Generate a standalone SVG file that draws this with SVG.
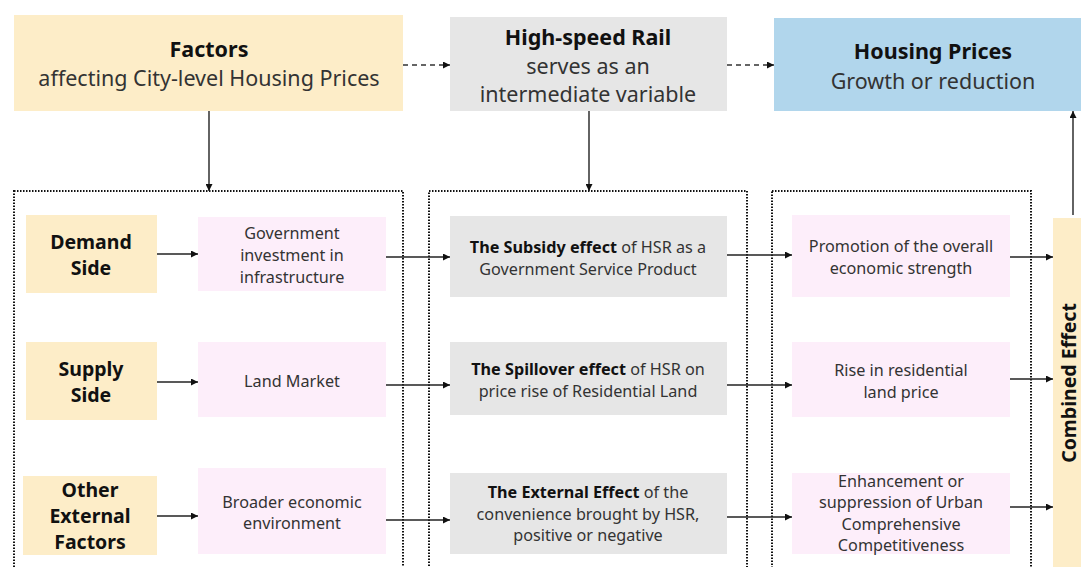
<svg xmlns="http://www.w3.org/2000/svg" width="1081" height="567" viewBox="0 0 1081 567">
<style>
text{font-family:"Noto Sans","Open Sans","Liberation Sans",sans-serif;fill:#333;text-anchor:middle}
.b{font-weight:bold;fill:#111}
.t0{font-size:21.5px}
.t1{font-size:21.5px}
.t2{font-size:19.5px}
.t3{font-size:16.2px}
.yel{fill:#fdedc8}
.gry{fill:#e6e6e6}
.pnk{fill:#fdeefa}
.blu{fill:#b1d6ec}
.dot{fill:none;stroke:#111;stroke-width:2;stroke-dasharray:1.5 1.5}
.ln{stroke:#222;stroke-width:1.4;fill:none}
.ds{stroke:#333;stroke-width:1.4;fill:none;stroke-dasharray:5 4}
</style>
<defs>
<marker id="ah" viewBox="0 0 10 10" refX="10" refY="5" markerWidth="7" markerHeight="7" markerUnits="userSpaceOnUse" orient="auto">
<path d="M0,0 L10,5 L0,10 z" fill="#111"/>
</marker>
</defs>
<rect width="1081" height="567" fill="#fff"/>

<g id="frames">
<rect class="dot" x="14" y="191" width="389" height="390"/>
<rect class="dot" x="429" y="191" width="318" height="390"/>
<rect class="dot" x="772" y="191" width="259" height="390"/>
</g>

<g id="factors">
<rect class="yel" x="14" y="15" width="389" height="96"/>
<text class="t0 b" x="209" y="57">Factors</text>
<text class="t1" x="209" y="86">affecting City-level Housing Prices</text>
</g>
<g id="hsr">
<rect class="gry" x="450" y="17" width="277" height="94"/>
<text class="t0 b" x="588" y="45">High-speed Rail</text>
<text class="t1" x="588" y="74">serves as an</text>
<text class="t1" x="588" y="102">intermediate variable</text>
</g>
<g id="housing">
<rect class="blu" x="774" y="18" width="307" height="93"/>
<text class="t0 b" x="933" y="59">Housing Prices</text>
<text class="t1" x="933" y="89">Growth or reduction</text>
</g>

<g id="demand">
<rect class="yel" x="26" y="215" width="131" height="78"/>
<text class="t2 b" x="91" y="249">Demand</text>
<text class="t2 b" x="91" y="275">Side</text>
</g>
<g id="supply">
<rect class="yel" x="26" y="342" width="131" height="78"/>
<text class="t2 b" x="91" y="376">Supply</text>
<text class="t2 b" x="91" y="402">Side</text>
</g>
<g id="other">
<rect class="yel" x="23" y="476" width="134" height="79"/>
<text class="t2 b" x="90" y="497">Other</text>
<text class="t2 b" x="90" y="523">External</text>
<text class="t2 b" x="90" y="549">Factors</text>
</g>

<g id="gov">
<rect class="pnk" x="198" y="217" width="188" height="74"/>
<text class="t3" x="292" y="239">Government</text>
<text class="t3" x="292" y="261">investment in</text>
<text class="t3" x="292" y="283">infrastructure</text>
</g>
<g id="land">
<rect class="pnk" x="198" y="342" width="188" height="75"/>
<text class="t3" x="292" y="387">Land  Market</text>
</g>
<g id="broader">
<rect class="pnk" x="198" y="468" width="188" height="86"/>
<text class="t3" x="292" y="508">Broader economic</text>
<text class="t3" x="292" y="529">environment</text>
</g>

<g id="subsidy">
<rect class="gry" x="450" y="216" width="277" height="81"/>
<text class="t3" x="588" y="253"><tspan class="b">The Subsidy effect</tspan> of HSR as a</text>
<text class="t3" x="588" y="275">Government Service Product</text>
</g>
<g id="spillover">
<rect class="gry" x="450" y="342" width="277" height="73"/>
<text class="t3" x="588" y="375"><tspan class="b">The Spillover effect</tspan> of HSR on</text>
<text class="t3" x="588" y="397">price rise of Residential Land</text>
</g>
<g id="external">
<rect class="gry" x="450" y="473" width="277" height="81"/>
<text class="t3" x="588" y="498"><tspan class="b">The External Effect</tspan> of the</text>
<text class="t3" x="588" y="520">convenience brought by HSR,</text>
<text class="t3" x="588" y="541">positive or negative</text>
</g>

<g id="promotion">
<rect class="pnk" x="792" y="215" width="218" height="82"/>
<text class="t3" x="901" y="252">Promotion of the overall</text>
<text class="t3" x="901" y="274">economic strength</text>
</g>
<g id="rise">
<rect class="pnk" x="792" y="342" width="218" height="75"/>
<text class="t3" x="901" y="376">Rise in  residential</text>
<text class="t3" x="901" y="398">land price</text>
</g>
<g id="enhancement">
<rect class="pnk" x="792" y="473" width="218" height="81"/>
<text class="t3" x="901" y="487">Enhancement or</text>
<text class="t3" x="901" y="508">suppression of Urban</text>
<text class="t3" x="901" y="530">Comprehensive</text>
<text class="t3" x="901" y="551">Competitiveness</text>
</g>

<g id="combined">
<rect class="yel" x="1053" y="218" width="28" height="349"/>
<text class="b" style="font-size:19.5px" transform="translate(1076,383) rotate(-90)">Combined Effect</text>
</g>

<g id="connectors">
<line class="ds" x1="403" y1="65" x2="450" y2="65" marker-end="url(#ah)"/>
<line class="ds" x1="727" y1="65" x2="774" y2="65" marker-end="url(#ah)"/>
<line class="ln" x1="209" y1="111" x2="209" y2="191" marker-end="url(#ah)"/>
<line class="ln" x1="589" y1="111" x2="589" y2="191" marker-end="url(#ah)"/>
<line class="ln" x1="1073" y1="215" x2="1073" y2="111" marker-end="url(#ah)"/>
<line class="ln" x1="157" y1="254" x2="198" y2="254" marker-end="url(#ah)"/>
<line class="ln" x1="157" y1="382" x2="198" y2="382" marker-end="url(#ah)"/>
<line class="ln" x1="157" y1="516" x2="198" y2="516" marker-end="url(#ah)"/>
<line class="ln" x1="386" y1="257" x2="450" y2="257" marker-end="url(#ah)"/>
<line class="ln" x1="386" y1="385" x2="450" y2="385" marker-end="url(#ah)"/>
<line class="ln" x1="386" y1="520" x2="450" y2="520" marker-end="url(#ah)"/>
<line class="ln" x1="727" y1="255" x2="792" y2="255" marker-end="url(#ah)"/>
<line class="ln" x1="727" y1="385" x2="792" y2="385" marker-end="url(#ah)"/>
<line class="ln" x1="727" y1="517" x2="792" y2="517" marker-end="url(#ah)"/>
<line class="ln" x1="1010" y1="257" x2="1053" y2="257" marker-end="url(#ah)"/>
<line class="ln" x1="1010" y1="379" x2="1053" y2="379" marker-end="url(#ah)"/>
<line class="ln" x1="1010" y1="507" x2="1053" y2="507" marker-end="url(#ah)"/>
</g>
</svg>
